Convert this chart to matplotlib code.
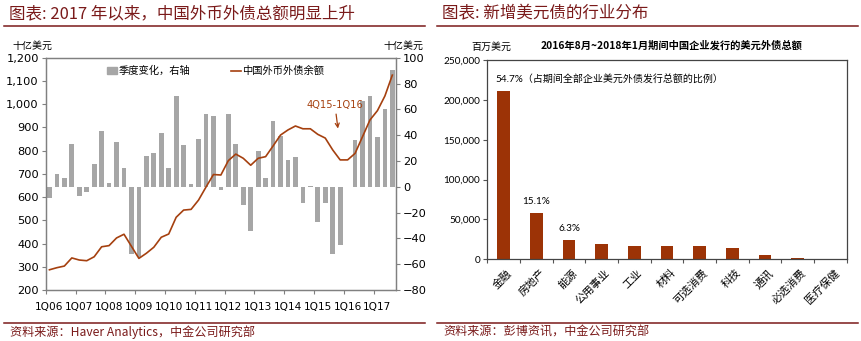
import numpy as np
import matplotlib
matplotlib.use('Agg')
import matplotlib.pyplot as plt
from matplotlib.lines import Line2D
from matplotlib.patches import Patch

plt.rcParams['font.family'] = ['DejaVu Sans', 'Noto Sans CJK SC']
CJK = ['Noto Sans CJK SC', 'DejaVu Sans']

DARK_RED = '#7a1a1a'
LINE_COLOR = '#a5400f'
BAR_GRAY = '#a6a6a6'
BAR_BROWN = '#9c3306'

# left chart: quarterly data 1Q06 - 3Q17
year_labels = ['1Q06', '1Q07', '1Q08', '1Q09', '1Q10', '1Q11',
               '1Q12', '1Q13', '1Q14', '1Q15', '1Q16', '1Q17']
qoq_change = [-8.5, 9.8, 7, 33.3, -7.2, -3.9, 17.6, 43.4, 3.1, 34.9,
              14.5, -52, -54.3, 23.8, 26.1, 41.9, 14.5, 70.5, 32.3, 2,
              37, 56.5, 54.5, -2.2, 56.3, 33.5, -14.5, -34, 27.6, 6.7,
              50.8, 39.7, 20.6, 23.2, -12.6, 0.5, -27, -12.4, -52.4, -45,
              -0.4, 36.1, 66.8, 70, 38.5, 60.4, 90.3]
fx_debt = [287, 296, 303, 338, 329, 326, 343, 386, 391, 424,
           440, 388, 336, 358, 384, 427, 441, 513, 544, 547,
           587, 643, 697, 695, 757, 785, 767, 737, 767, 774,
           820, 867, 889, 906, 894, 894, 870, 854, 803, 760,
           760, 788, 860, 932, 972, 1035, 1125]

# right chart: new USD bonds by sector (USD mn)
sectors = ['金融', '房地产', '能源', '公用事业', '工业', '材料',
           '可选消费', '科技', '通讯', '必选消费', '医疗保健']
issuance = [210700, 58100, 24200, 18800, 17100, 17100,
            16700, 14600, 5000, 1600, 200]
share_labels = ['54.7%（占期间全部企业美元外债发行总额的比例）', '15.1%', '6.3%']

fig = plt.figure(figsize=(8.61, 3.41), dpi=100)

# ---------- left chart ----------
ax = fig.add_axes([0.0531, 0.1496, 0.4069, 0.6812])
ax2 = ax.twinx()
x = np.arange(len(fx_debt))
ax2.bar(x, qoq_change, width=0.63, color=BAR_GRAY, zorder=2)
ax.plot(x, fx_debt, color=LINE_COLOR, lw=1.2, zorder=3)
ax.set_zorder(ax2.get_zorder() + 1)
ax.patch.set_visible(False)

ax.set_xlim(-0.5, len(x) - 0.5)
ax.set_ylim(200, 1200)
ax2.set_ylim(-80, 100)
ax.set_yticks(np.arange(200, 1201, 100))
ax.set_yticklabels([f'{v:,}' for v in range(200, 1201, 100)])
ax2.set_yticks(np.arange(-80, 101, 20))
ax.set_xticks(np.arange(-0.5, len(x), 4))
ax.set_xticklabels([])
ax.set_xticks(np.arange(0, len(x), 4), minor=True)
ax.set_xticklabels(year_labels, minor=True)
ax.tick_params(axis='x', which='major', length=3, direction='out', color='#808080')
ax.tick_params(axis='x', which='minor', length=0, pad=9, labelsize=7.6)
ax.tick_params(axis='y', length=3, color='#808080', labelsize=8.2, pad=2)
ax2.tick_params(axis='y', length=3, color='#808080', labelsize=8.2, pad=2)
for a in (ax, ax2):
    for s in a.spines.values():
        s.set_color('#808080')
        s.set_linewidth(0.9)

handles = [Patch(color=BAR_GRAY), Line2D([], [], color=LINE_COLOR, lw=1.2)]
ax.legend(handles, ['季度变化，右轴', '中国外币外债余额'], loc='upper center',
          bbox_to_anchor=(0.485, 1.005), ncol=2, frameon=False,
          prop={'family': CJK, 'size': 7.4}, handlelength=1.0,
          handletextpad=0.1, columnspacing=4.0, handleheight=0.6)

ax.annotate('4Q15-1Q16', xy=(38.7, 895), xytext=(38.3, 975),
            ha='center', va='bottom', fontsize=7.1, color=LINE_COLOR,
            arrowprops=dict(arrowstyle='->', color=LINE_COLOR, lw=0.9,
                            shrinkA=1, shrinkB=0))

fig.text(12 / 861, 1 - 46 / 341, '十亿美元', family=CJK, fontsize=7.2, va='center')
fig.text(423 / 861, 1 - 46 / 341, '十亿美元', family=CJK, fontsize=7.2,
         va='center', ha='right')

# ---------- right chart ----------
bx = fig.add_axes([0.566, 0.2396, 0.4174, 0.5845])
xs = np.arange(len(sectors))
bx.bar(xs, issuance, width=0.39, color=BAR_BROWN)
bx.set_xlim(-0.5, len(sectors) - 0.5)
bx.set_ylim(0, 250000)
bx.set_yticks(np.arange(0, 250001, 50000))
bx.set_yticklabels([f'{v:,}' for v in range(0, 250001, 50000)])
bx.set_xticks(np.arange(-0.5, len(sectors), 1))
bx.set_xticklabels([])
bx.set_xticks(xs + 0.1, minor=True)
bx.set_xticklabels(sectors, minor=True, rotation=45, ha='right', va='top',
                   rotation_mode='anchor', family=CJK, fontsize=7.8)
bx.tick_params(axis='x', which='major', length=3, color='#555555')
bx.tick_params(axis='x', which='minor', length=0, pad=6)
bx.tick_params(axis='y', length=3, color='#555555', labelsize=7.2, pad=2)
for lab in bx.get_yticklabels():
    lab.set_family(['Lato', 'DejaVu Sans'])
for s in bx.spines.values():
    s.set_color('#444444')
    s.set_linewidth(0.9)

for i, txt in enumerate(share_labels):
    ha = 'left' if i == 0 else 'center'
    xo = xs[i] - 0.25 if i == 0 else xs[i]
    bx.text(xo, issuance[i] + 8500, txt, ha=ha, va='bottom',
            family=['Lato', 'Noto Sans CJK SC'], fontsize=7.2)

fig.text((545 + 798) / 2 / 861, 1 - 46 / 341,
         '2016年8月~2018年1月期间中国企业发行的美元外债总额',
         family=CJK, fontsize=7.4, fontweight='bold', ha='center', va='center')
fig.text(491 / 861, 1 - 47 / 341, '百万美元', family=CJK, fontsize=7.2,
         ha='center', va='center')

# ---------- headers and footers ----------
for x0, x1, title, src in [
        (4, 425, '图表: 2017 年以来，中国外币外债总额明显上升',
         '资料来源：Haver Analytics，中金公司研究部'),
        (437, 858, '图表: 新增美元债的行业分布',
         '资料来源：彭博资讯，中金公司研究部')]:
    fig.add_artist(Line2D([x0 / 861, x1 / 861], [1 - 25.5 / 341] * 2,
                          color=DARK_RED, lw=1.1))
    fig.add_artist(Line2D([x0 / 861, x1 / 861], [1 - 322.5 / 341] * 2,
                          color=DARK_RED, lw=1.1))
    fig.text((x0 + 5) / 861, 1 - 14 / 341, title, family=CJK, fontsize=11.9,
             color=DARK_RED, va='center', style='italic')
    fig.text((x0 + 6) / 861, 1 - 332 / 341, src, family=CJK, fontsize=8.7,
             color=DARK_RED, va='center', style='italic')

fig.savefig('out.png', dpi=100)
